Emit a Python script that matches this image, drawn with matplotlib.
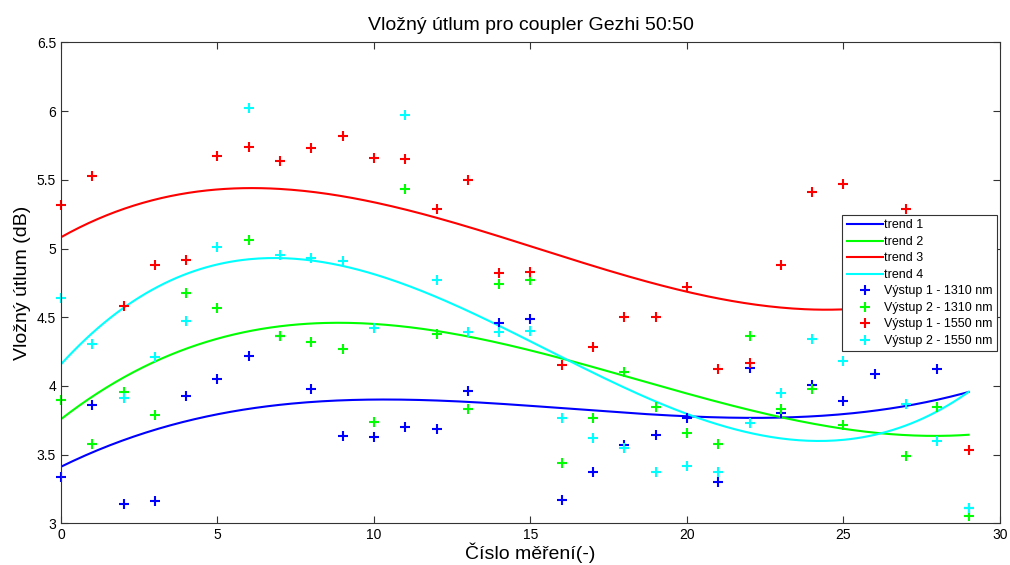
import numpy as np
import matplotlib
matplotlib.use('Agg')
import matplotlib.pyplot as plt
from matplotlib.ticker import MultipleLocator, FormatStrFormatter

plt.rcParams['font.family'] = ['Liberation Sans', 'DejaVu Sans']

# measurement number
x = np.arange(30)

# Vystup 1 - 1310 nm
out1_1310 = [3.34, 3.86, 3.14, 3.16, 3.93, 4.05, 4.22, 4.36, 3.98, 3.635,
             3.63, 3.70, 3.69, 3.96, 4.46, 4.49, 3.17, 3.37, 3.57, 3.64,
             3.77, 3.30, 4.13, 3.80, 4.01, 3.89, 4.09, 4.40, 4.12, 3.11]
# Vystup 2 - 1310 nm
out2_1310 = [3.90, 3.58, 3.955, 3.79, 4.68, 4.57, 5.06, 4.36, 4.32, 4.27,
             3.735, 5.43, 4.38, 3.83, 4.74, 4.77, 3.44, 3.77, 4.10, 3.85,
             3.66, 3.575, 4.36, 3.83, 3.975, 3.715, 4.30, 3.49, 3.85, 3.05]
# Vystup 1 - 1550 nm
out1_1550 = [5.32, 5.53, 4.58, 4.88, 4.92, 5.675, 5.74, 5.64, 5.73, 5.82,
             5.66, 5.65, 5.29, 5.50, 4.82, 4.83, 4.15, 4.28, 4.50, 4.50,
             4.72, 4.12, 4.17, 4.88, 5.41, 5.47, 4.90, 5.29, 4.60, 3.53]
# Vystup 2 - 1550 nm
out2_1550 = [4.64, 4.305, 3.91, 4.21, 4.47, 5.01, 6.02, 4.95, 4.93, 4.91,
             4.42, 5.97, 4.77, 4.39, 4.39, 4.40, 3.77, 3.62, 3.55, 3.37,
             3.42, 3.37, 3.73, 3.95, 4.34, 4.18, 4.40, 3.87, 3.60, 3.11]

series = [out1_1310, out2_1310, out1_1550, out2_1550]
colors = ['#0000ff', '#00ff00', '#ff0000', '#00ffff']
trend_labels = ['trend 1', 'trend 2', 'trend 3', 'trend 4']
point_labels = ['Výstup 1 - 1310 nm', 'Výstup 2 - 1310 nm',
                'Výstup 1 - 1550 nm', 'Výstup 2 - 1550 nm']

fig = plt.figure(figsize=(10.1, 5.65), dpi=100)
ax = fig.add_axes([0.0604, 0.0738, 0.9296, 0.851])

# cubic trend lines fitted to the measured points
xs = np.linspace(0, 29, 300)
for ys, c, lab in zip(series, colors, trend_labels):
    p = np.polyfit(x, ys, 3)
    ax.plot(xs, np.polyval(p, xs), color=c, lw=1.5, label=lab)

for ys, c, lab in zip(series, colors, point_labels):
    ax.plot(x, ys, '+', color=c, ms=7, mew=1.5, label=lab, clip_on=False)

ax.set_xlim(0, 30)
ax.set_ylim(3, 6.5)
ax.xaxis.set_major_locator(MultipleLocator(5))
ax.yaxis.set_major_locator(MultipleLocator(0.5))
ax.yaxis.set_major_formatter(FormatStrFormatter('%g'))
ax.tick_params(direction='in', top=True, right=True, length=5,
               labelsize=10, color='#333333')
for s in ax.spines.values():
    s.set_color('#333333')

ax.set_title('Vložný útlum pro coupler Gezhi 50:50', fontsize=14, pad=9)
ax.set_xlabel('Číslo měření(-)', fontsize=14, labelpad=0)
ax.set_ylabel('Vložný útlum (dB)', fontsize=14, labelpad=4)

leg = ax.legend(loc='upper left', bbox_to_anchor=(0.832, 0.641),
                fontsize=9, frameon=True, fancybox=False, framealpha=1,
                edgecolor='#333333', borderpad=0.35, labelspacing=0.36,
                handlelength=2.9, handletextpad=0.1, borderaxespad=0)
leg.get_frame().set_linewidth(0.8)
leg.set_zorder(10)

fig.savefig('out.png', dpi=100)
